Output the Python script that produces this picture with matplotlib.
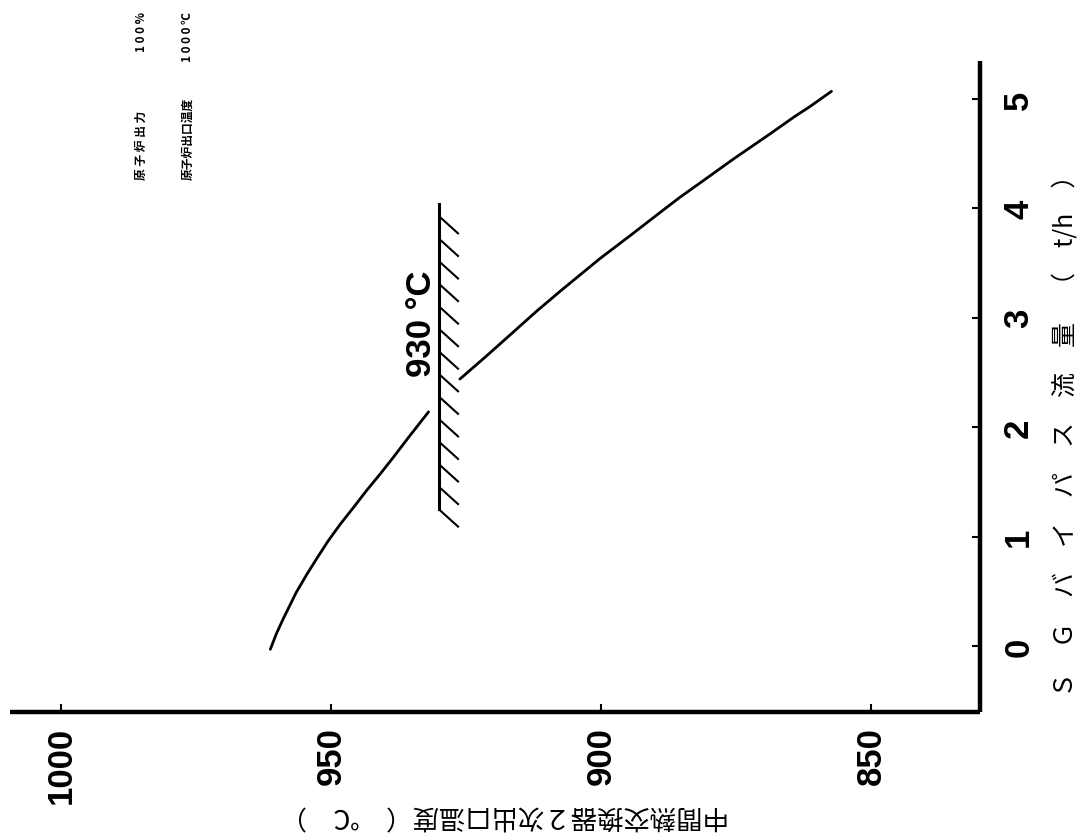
import matplotlib
matplotlib.use('Agg')
import matplotlib.pyplot as plt
import numpy as np

# ---------------- data ----------------
# curve: IHX secondary outlet temperature (degC) vs SG bypass flow (t/h)
seg1_temp = [961.2, 960.1, 958.8, 957.6, 956.4, 954.5, 952.6, 950.5, 948.3,
             945.9, 943.4, 940.9, 938.5, 935.4, 931.9]
seg1_flow = [-0.03, 0.11, 0.25, 0.37, 0.49, 0.65, 0.80, 0.96, 1.11,
             1.26, 1.42, 1.57, 1.72, 1.92, 2.14]
seg2_temp = [926.1, 921.2, 916.2, 911.9, 907.6, 903.9, 900.2, 894.6, 889.1,
             885.4, 881.7, 875.2, 868.7, 864.1, 861.3, 857.3]
seg2_flow = [2.44, 2.65, 2.87, 3.06, 3.24, 3.39, 3.54, 3.75, 3.96,
             4.10, 4.23, 4.46, 4.68, 4.84, 4.93, 5.07]

limit_temp = 930
limit_flow = [1.25, 4.04]
limit_label = "930 °C"

temp_ticks = [1000, 950, 900, 850]
temp_tick_labels = ["1000", "950", "900", "850"]
flow_ticks = [0, 1, 2, 3, 4, 5]
flow_tick_labels = ["0", "1", "2", "3", "4", "5"]

temp_label = "中間熱交換器２次出口温度（　℃　）"
flow_label = "　".join(["Ｓ", "Ｇ", "バ", "イ", "パ", "ス", "流", "量", "（", "t/h", "）"])
cond_names = ["原 子 炉 出 力", "原子炉出口温度"]
cond_values = ["1 0 0 %", "1 0 0 0 ℃"]

# ---------------- figure ----------------
W, H = 1092, 837
fig = plt.figure(figsize=(W / 100, H / 100), dpi=100)
ax = fig.add_axes([10 / W, 1 - 713 / H, 970 / W, 651 / H])

num_font = ["Liberation Sans Narrow", "Liberation Sans", "DejaVu Sans"]
cjk_font = ["Noto Sans CJK JP", "DejaVu Sans"]

# curve (temperature horizontal, flow vertical: the page is rotated)
ax.plot(seg1_temp, seg1_flow, color="black", lw=2.0, solid_capstyle="round",
        solid_joinstyle="round")
ax.plot(seg2_temp, seg2_flow, color="black", lw=2.0, solid_capstyle="round",
        solid_joinstyle="round")

# limit line with hatching
ax.plot([limit_temp, limit_temp], limit_flow, color="black", lw=2.2)
n_hatch = 14
for f in np.linspace(limit_flow[1] - 0.11, limit_flow[0], n_hatch):
    ax.plot([limit_temp, limit_temp - 3.7], [f, f - 0.165],
            color="black", lw=1.5, solid_capstyle="butt")
ax.text(limit_temp + 3.3, 2.47, limit_label, rotation=90, rotation_mode="anchor",
        ha="left", va="center", fontsize=25, fontweight="bold",
        family=num_font, color="black")

# axes limits (temperature decreasing to the right)
ax.set_xlim(1009.4, 829.8)
ax.set_ylim(-0.603, 5.347)

for s in ["left", "top"]:
    ax.spines[s].set_visible(False)
for s in ["bottom", "right"]:
    ax.spines[s].set_linewidth(3.2)
    ax.spines[s].set_capstyle("butt")

ax.set_xticks(temp_ticks)
ax.set_xticklabels(temp_tick_labels, rotation=90, fontsize=25,
                   fontweight="bold", family=num_font)
ax.set_yticks(flow_ticks)
ax.set_yticklabels(flow_tick_labels, rotation=90, fontsize=25,
                   fontweight="bold", family=num_font, va="center")
ax.tick_params(axis="x", direction="in", length=6, width=1.5, pad=10,
               bottom=True, top=False)
ax.tick_params(axis="y", direction="in", length=6, width=1.5, pad=16,
               left=False, right=True, labelleft=False, labelright=True)

# axis titles
ax.set_xlabel(temp_label, rotation=180, fontsize=19, family=cjk_font,
              ha="center", va="center", rotation_mode="anchor")
ax.xaxis.set_label_coords((505 - 10) / 970, (713 - 815) / 651)
ax.yaxis.set_label_position("right")
ax.set_ylabel(flow_label, rotation=90, fontsize=18, family=cjk_font,
              ha="center", va="center", rotation_mode="anchor")
ax.yaxis.set_label_coords((1066 - 10) / 970, (713 - 430) / 651)

# operating condition notes
for xt, name, val in zip([985.0, 976.5], cond_names, cond_values):
    ax.text(xt, 4.27, name, rotation=90, rotation_mode="anchor", ha="left",
            va="center", fontsize=8.5, fontweight="bold", family=cjk_font)
    ax.text(xt, 5.80, val, rotation=90, rotation_mode="anchor", ha="right",
            va="center", fontsize=8.5, fontweight="bold", family=cjk_font,
            clip_on=False)

fig.savefig("out.png", dpi=100, facecolor="white")
